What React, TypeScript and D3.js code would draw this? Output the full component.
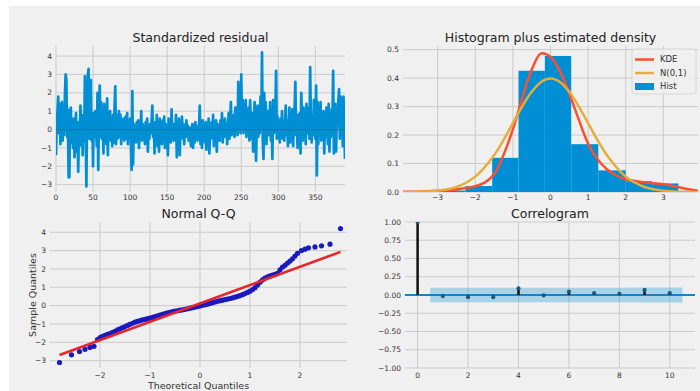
import * as d3 from "d3";
import React from "react";

const W = 700;
const H = 391;
const FONT = "DejaVu Sans, Verdana, sans-serif";
const BG = "#f0f0f0";
const GRID = "#cbcbcb";
const C0 = "#008fd5";
const C1 = "#fc4f30";
const C2 = "#e5ae38";

// standardized residuals, one value per step (0..390)
const resid = [
  -1.4, 0.3, 1.0, 1.8, -0.2, 1.4, -0.8, 0.5, 1.5, -0.6,
  0.9, -0.3, 1.8, 3.0, 2.7, -0.4, 1.1, -2.6, -2.6, 0.6,
  1.2, -0.7, 0.1, -1.0, 0.6, -1.5, -0.3, 0.9, -1.2, 0.4,
  -2.3, 0.3, -0.9, 1.3, -0.2, 0.8, -1.4, 0.4, -0.6, 2.9,
  0.5, -3.1, 1.2, 3.0, 3.3, -0.5, 1.6, 2.7, -0.6, 0.8,
  -2.0, 0.9, -0.4, 1.0, 0.2, -0.9, 2.0, -2.2, 0.7, 2.4,
  -0.4, 1.5, -0.5, 0.6, -1.3, 1.4, -0.2, 0.5, -0.8, 1.7,
  -1.4, 0.9, -0.3, 1.0, -0.6, 0.4, -0.9, 0.8, -0.7, 1.2,
  2.35, -0.8, 0.8, -0.5, 0.3, 1.0, -0.4, 0.8, -0.8, 0.5,
  -0.3, 0.6, -0.6, 0.2, 0.7, -0.5, 0.9, -0.8, 0.4, -0.4,
  0.6, -0.6, -2.2, 2.1, -1.9, 0.3, -0.5, 0.2, -0.7, 0.4,
  -0.3, 0.5, -1.0, 0.2, -0.4, 1.0, -0.6, 0.3, -0.2, 0.1,
  -0.8, 0.4, -0.3, 0.6, -1.2, 0.2, -0.5, 0.3, -0.2, 0.5,
  1.3, -0.4, 0.2, -1.3, 0.4, -0.6, 0.8, -0.9, 0.3, -1.2,
  0.6, -0.3, 0.1, -0.8, 0.5, -0.2, 0.7, -1.0, 0.3, -0.5,
  0.2, -1.4, 0.6, -0.3, 0.4, -0.7, 1.1, -0.4, 0.2, -0.6,
  0.3, -0.1, 0.8, -1.5, 0.4, -0.3, 0.6, -1.4, 0.2, -0.5,
  0.7, -0.2, 0.3, -0.8, 0.1, -0.4, 0.5, -0.3, 0.2, -0.6,
  -0.2, 0.1, -0.9, -0.5, 0.3, -1.0, 0.2, -0.7, 0.4, -0.3,
  0.2, -0.6, -0.3, 0.1, 1.3, -0.8, 0.3, -1.0, 0.5, -0.4,
  0.2, -0.7, 0.4, -1.1, 0.3, -0.2, 0.6, -1.3, 0.1, -0.5,
  0.4, -0.3, 0.8, -0.9, 0.2, -0.4, 0.5, -1.2, 0.3, -0.2,
  0.1, -0.6, 0.5, -0.3, 0.9, -0.7, 0.2, -0.4, 0.6, -0.2,
  0.3, -0.8, 0.2, 0.9, -0.5, 0.4, 1.5, -0.3, 0.6, -0.2,
  0.8, -0.4, 1.2, 0.1, 0.5, -0.3, 2.6, 0.4, 0.8, -0.2,
  3.0, 0.3, 1.6, -0.2, 1.4, 0.5, 1.6, -0.4, 0.9, 0.2,
  1.2, -0.6, 1.6, 0.3, -0.5, 0.9, -1.2, 0.4, 1.5, -0.3,
  -1.7, 0.6, 1.3, -0.4, 0.8, -0.2, 1.8, 0.1, 4.2, -0.5,
  -1.6, 2.0, 0.5, 1.5, -0.8, 0.6, 1.0, -0.3, 0.4, 1.5,
  -0.6, 0.3, -1.6, 1.6, -0.2, 0.4, 0.8, 3.2, -0.5, 0.7,
  -0.4, 0.3, -0.7, 0.6, -0.2, 1.0, -0.5, 0.2, -0.6, 0.4,
  1.3, -0.3, 0.5, -0.9, 0.2, 1.2, -0.7, 0.3, -0.2, 1.1,
  -0.9, 0.5, 1.2, 2.6, -0.3, 0.4, -1.0, 0.8, -0.4, 0.9,
  -1.3, 2.0, 0.4, -0.6, 1.2, -0.3, 0.6, -0.8, 1.4, -0.2,
  0.5, 1.2, -0.5, 3.4, 0.2, -0.7, 0.8, -0.3, 1.6, 0.3,
  -0.5, 2.4, -2.5, 1.5, -0.8, 1.2, 0.2, 1.5, -0.6, 0.9,
  -0.3, 1.0, -1.3, 0.6, -0.4, 1.2, 0.3, -0.8, 1.4, -1.2,
  0.8, -0.4, 1.1, 0.3, 3.2, -1.3, 0.5, 1.4, -1.2, 0.9,
  0.2, 1.6, 2.2, -0.5, 1.8, 0.4, 1.7, -0.9, 1.8, 0.3,
  -1.6,
];
const residXTicks = [0, 50, 100, 150, 200, 250, 300, 350];
const residYTicks = [-3, -2, -1, 0, 1, 2, 3, 4];

// histogram (density) + curves
const histEdges = [-2.96, -2.26, -1.55, -0.85, -0.15, 0.55, 1.27, 2.0, 2.7, 3.4, 4.12];
const histDensity = [0.005, 0.021, 0.12, 0.426, 0.478, 0.168, 0.076, 0.038, 0.03, 0.004];
const kdeX = [-3.92, -3.5, -3, -2.5, -2, -1.75, -1.5, -1.25, -1, -0.75, -0.5, -0.25, 0, 0.25, 0.5, 0.75, 1, 1.25, 1.5, 1.75, 2, 2.5, 3, 3.5, 3.92];
const kdeY = [0.0005, 0.001, 0.004, 0.009, 0.02, 0.033, 0.062, 0.13, 0.22, 0.33, 0.43, 0.487, 0.475, 0.425, 0.345, 0.255, 0.17, 0.115, 0.08, 0.058, 0.045, 0.034, 0.027, 0.014, 0.004];
const normX = [-3.92, -3.5, -3, -2.5, -2, -1.5, -1.25, -1, -0.75, -0.5, -0.25, 0, 0.25, 0.5, 0.75, 1, 1.25, 1.5, 2, 2.5, 3, 3.5, 3.92];
const normY = [0.0002, 0.0009, 0.0044, 0.0175, 0.054, 0.1295, 0.1826, 0.242, 0.3011, 0.3521, 0.3867, 0.3989, 0.3867, 0.3521, 0.3011, 0.242, 0.1826, 0.1295, 0.054, 0.0175, 0.0044, 0.0009, 0.0002];
const histXTicks = [-3, -2, -1, 0, 1, 2, 3];
const histYTicks = [0, 0.1, 0.2, 0.3, 0.4, 0.5];
const legendLabels = ["KDE", "N(0,1)", "Hist"];

// normal Q-Q
const qqTheo = [
  -2.81, -2.57, -2.41, -2.3, -2.2, -2.12, -2.05, -2.0, -1.95, -1.9,
  -1.85, -1.8, -1.75, -1.7, -1.65, -1.6, -1.55, -1.5, -1.45, -1.4,
  -1.35, -1.3, -1.25, -1.2, -1.15, -1.1, -1.05, -1.0, -0.95, -0.9,
  -0.85, -0.8, -0.75, -0.7, -0.65, -0.6, -0.55, -0.5, -0.45, -0.4,
  -0.35, -0.3, -0.25, -0.2, -0.15, -0.1, -0.05, 0.0, 0.05, 0.1,
  0.15, 0.2, 0.25, 0.3, 0.35, 0.4, 0.45, 0.5, 0.55, 0.6,
  0.65, 0.7, 0.75, 0.8, 0.85, 0.9, 0.95, 1.0, 1.05, 1.1,
  1.15, 1.2, 1.25, 1.3, 1.35, 1.4, 1.45, 1.5, 1.55, 1.6,
  1.65, 1.7, 1.75, 1.8, 1.85, 1.9, 1.95, 2.03, 2.1, 2.17,
  2.3, 2.43, 2.6, 2.81,
];
const qqSample = [
  -3.1, -2.68, -2.5, -2.38, -2.28, -2.22, -1.85, -1.74, -1.68, -1.62,
  -1.57, -1.52, -1.46, -1.4, -1.32, -1.26, -1.2, -1.14, -1.08, -1.02,
  -0.96, -0.9, -0.86, -0.82, -0.78, -0.75, -0.71, -0.68, -0.64, -0.6,
  -0.56, -0.52, -0.47, -0.43, -0.39, -0.36, -0.33, -0.3, -0.28, -0.25,
  -0.23, -0.2, -0.17, -0.14, -0.11, -0.08, -0.05, -0.02, 0.02, 0.05,
  0.08, 0.12, 0.16, 0.2, 0.24, 0.27, 0.3, 0.33, 0.36, 0.39,
  0.42, 0.46, 0.5, 0.55, 0.6, 0.66, 0.72, 0.79, 0.88, 0.98,
  1.12, 1.28, 1.4, 1.5, 1.57, 1.62, 1.66, 1.7, 1.76, 1.95,
  2.1, 2.2, 2.32, 2.43, 2.55, 2.7, 2.85, 3.0, 3.08, 3.15,
  3.2, 3.26, 3.35, 4.2,
];
const qqLineX = [-2.81, 2.81];
const qqLineY = [-2.69, 2.93];
const qqXTicks = [-2, -1, 0, 1, 2];
const qqYTicks = [-3, -2, -1, 0, 1, 2, 3, 4];

// correlogram
const acfLags = [0, 1, 2, 3, 4, 5, 6, 7, 8, 9, 10];
const acfValues = [1.0, -0.015, -0.03, -0.03, 0.09, -0.005, 0.045, 0.025, 0.015, 0.07, 0.025];
const bandX = [0.5, 2, 3, 4, 5, 6, 7, 8, 9, 10.5];
const bandHalf = [0.099, 0.099, 0.099, 0.1, 0.1, 0.1, 0.101, 0.101, 0.102, 0.102];
const acfXTicks = [0, 2, 4, 6, 8, 10];
const acfYTicks = [-1, -0.75, -0.5, -0.25, 0, 0.25, 0.5, 0.75, 1];

type Frame = { x0: number; x1: number; y0: number; y1: number };

function Axes(props: {
  id: string;
  f: Frame;
  x: d3.ScaleLinear<number, number>;
  y: d3.ScaleLinear<number, number>;
  xTicks: number[];
  yTicks: number[];
  xFmt: (n: number) => string;
  yFmt: (n: number) => string;
  title: string;
  xLabelY: number;
  children?: React.ReactNode;
}) {
  const { id, f, x, y, xTicks, yTicks, xFmt, yFmt, title, xLabelY } = props;
  return (
    <g>
      <defs>
        <clipPath id={id}>
          <rect x={f.x0} y={f.y0} width={f.x1 - f.x0} height={f.y1 - f.y0} />
        </clipPath>
      </defs>
      {yTicks.map((t) => (
        <line key={"gy" + t} x1={f.x0} x2={f.x1} y1={y(t)} y2={y(t)} stroke={GRID} strokeWidth={1} />
      ))}
      {xTicks.map((t) => (
        <line key={"gx" + t} x1={x(t)} x2={x(t)} y1={f.y0} y2={f.y1} stroke={GRID} strokeWidth={1} />
      ))}
      <g clipPath={`url(#${id})`}>{props.children}</g>
      {yTicks.map((t) => (
        <text key={"ly" + t} x={f.x0 - 4} y={y(t)} dy="0.35em" textAnchor="end" fontSize={7.5} fill="#333">
          {yFmt(t)}
        </text>
      ))}
      {xTicks.map((t) => (
        <text key={"lx" + t} x={x(t)} y={xLabelY} textAnchor="middle" fontSize={7.5} fill="#333">
          {xFmt(t)}
        </text>
      ))}
      <text x={(f.x0 + f.x1) / 2} y={f.y0 - 4.5} textAnchor="middle" fontSize={12.5} fill="#222">
        {title}
      </text>
    </g>
  );
}

export default function App() {
  // frames
  const f1 = { x0: 56, x1: 345, y0: 46, y1: 192 };
  const f2 = { x0: 403, x1: 698, y0: 46, y1: 192 };
  const f3 = { x0: 50, x1: 347, y0: 222, y1: 368 };
  const f4 = { x0: 405, x1: 695, y0: 222, y1: 368 };

  const x1 = d3.scaleLinear().domain([0, resid.length - 1]).range([f1.x0, f1.x1]);
  const y1 = d3.scaleLinear().domain([-3.4, 4.55]).range([f1.y1, f1.y0]);
  const x2 = d3.scaleLinear().domain([-3.92, 3.92]).range([f2.x0, f2.x1]);
  const y2 = d3.scaleLinear().domain([0, 0.513]).range([f2.y1, f2.y0]);
  const x3 = d3.scaleLinear().domain([-3.0, 2.94]).range([f3.x0, f3.x1]);
  const y3 = d3.scaleLinear().domain([-3.4, 4.56]).range([f3.y1, f3.y0]);
  const x4 = d3.scaleLinear().domain([-0.5, 11]).range([f4.x0, f4.x1]);
  const y4 = d3.scaleLinear().domain([-1, 1]).range([f4.y1, f4.y0]);

  const intFmt = d3.format("d");
  const residLine = d3
    .line<number>()
    .x((_, i) => x1(i))
    .y((d) => y1(d))(resid) as string;

  const curve = (xs: number[], ys: number[]) =>
    d3
      .line<number>()
      .x((d) => x2(d))
      .y((_, i) => y2(ys[i]))
      .curve(d3.curveCatmullRom)(xs) as string;

  const band = d3
    .area<number>()
    .x((d) => x4(d))
    .y0((_, i) => y4(-bandHalf[i]))
    .y1((_, i) => y4(bandHalf[i]))(bandX) as string;

  const legX = 632;
  const legY = 49;

  return (
    <div style={{ position: "absolute", left: 0, top: 0 }}>
      <svg width={W} height={H} style={{ display: "block", fontFamily: FONT }}>
        <rect x={0} y={0} width={W} height={H} fill="#ffffff" />
        <rect x={9} y={6} width={W - 9} height={H - 6} fill={BG} />

        {/* standardized residual */}
        <Axes id="c1" f={f1} x={x1} y={y1} xTicks={residXTicks} yTicks={residYTicks} xFmt={intFmt} yFmt={intFmt}
          title="Standardized residual" xLabelY={200}>
          <path d={residLine} fill="none" stroke={C0} strokeWidth={2.7} strokeLinejoin="round" />
          <line x1={x1(0)} x2={x1(resid.length - 1)} y1={y1(0)} y2={y1(0)} stroke="#555" strokeOpacity={0.5} strokeWidth={1.2} />
        </Axes>

        {/* histogram */}
        <Axes id="c2" f={f2} x={x2} y={y2} xTicks={histXTicks} yTicks={histYTicks} xFmt={intFmt} yFmt={d3.format(".1f")}
          title="Histogram plus estimated density" xLabelY={200}>
          {histDensity.map((d, i) => (
            <rect key={i} x={x2(histEdges[i])} width={x2(histEdges[i + 1]) - x2(histEdges[i])} y={y2(d)}
              height={y2(0) - y2(d)} fill={C0} />
          ))}
          <path d={curve(kdeX, kdeY)} fill="none" stroke={C1} strokeWidth={2.5} />
          <path d={curve(normX, normY)} fill="none" stroke={C2} strokeWidth={2.5} />
        </Axes>
        <g>
          <rect x={legX} y={legY} width={64} height={45} rx={3} fill={BG} fillOpacity={0.8} stroke="#d6d6d6" />
          {legendLabels.map((l, i) => {
            const cy = legY + 10.5 + i * 13.5;
            return (
              <g key={l}>
                {i < 2 ? (
                  <line x1={legX + 3} x2={legX + 22} y1={cy} y2={cy} stroke={i === 0 ? C1 : C2} strokeWidth={2.5} />
                ) : (
                  <rect x={legX + 3} y={cy - 3.5} width={19} height={7} fill={C0} />
                )}
                <text x={legX + 28} y={cy} dy="0.35em" fontSize={8.5} fill="#333">
                  {l}
                </text>
              </g>
            );
          })}
        </g>

        {/* normal Q-Q */}
        <Axes id="c3" f={f3} x={x3} y={y3} xTicks={qqXTicks} yTicks={qqYTicks} xFmt={intFmt} yFmt={intFmt}
          title="Normal Q-Q" xLabelY={378}>
          {qqTheo.map((t, i) => (
            <circle key={i} cx={x3(t)} cy={y3(qqSample[i])} r={2.6} fill="#1a1abf" />
          ))}
          <line x1={x3(qqLineX[0])} x2={x3(qqLineX[1])} y1={y3(qqLineY[0])} y2={y3(qqLineY[1])} stroke="#e8262a" strokeWidth={2.6} />
        </Axes>
        <text x={(f3.x0 + f3.x1) / 2} y={389} textAnchor="middle" fontSize={9.5} fill="#333">
          Theoretical Quantiles
        </text>
        <text transform={`translate(36,${(f3.y0 + f3.y1) / 2}) rotate(-90)`} textAnchor="middle" fontSize={9.5} fill="#333">
          Sample Quantiles
        </text>

        {/* correlogram */}
        <Axes id="c4" f={f4} x={x4} y={y4} xTicks={acfXTicks} yTicks={acfYTicks} xFmt={intFmt} yFmt={d3.format(".2f")}
          title="Correlogram" xLabelY={378}>
          <path d={band} fill={C0} fillOpacity={0.3} />
          <line x1={f4.x0} x2={f4.x1} y1={y4(0)} y2={y4(0)} stroke="#1f80bf" strokeWidth={2} />
          {acfLags.map((l, i) => (
            <line key={"s" + l} x1={x4(l)} x2={x4(l)} y1={y4(0)} y2={y4(acfValues[i])} stroke="#111" strokeWidth={2.5} />
          ))}
          {acfLags.map((l, i) => (
            <circle key={"m" + l} cx={x4(l)} cy={y4(acfValues[i])} r={2.1} fill="#1a5a80" />
          ))}
        </Axes>
      </svg>
    </div>
  );
}
